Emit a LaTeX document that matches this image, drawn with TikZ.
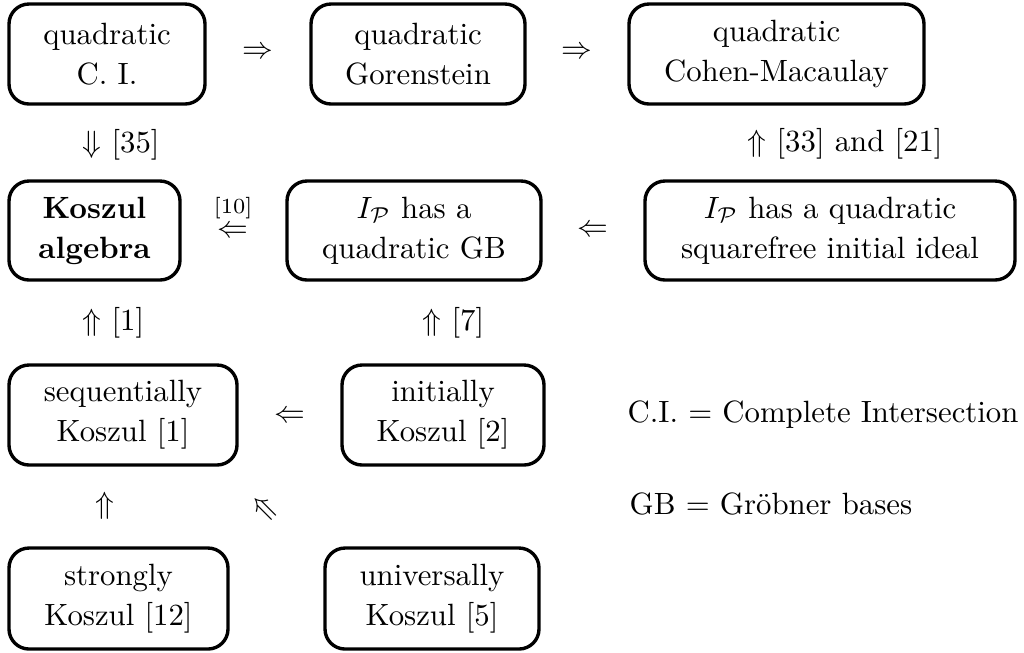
\documentclass[tikz,border=0pt]{standalone}
\usepackage{amsmath}
\newcommand\pxu{0.325pt}
\tikzset{
  box/.style={draw, line width=1.1pt, rounded corners=6.5pt, align=center, inner sep=0pt,
              font=\fontsize{10}{13}\selectfont},
  sym/.style={inner sep=0pt, font=\fontsize{10}{12}\selectfont},
}
\begin{document}
\begin{tikzpicture}[x=0.325pt,y=-0.325pt]
\useasboundingbox (0,0) rectangle (1024,652);
% row 1
\node[box, minimum width=196*\pxu, minimum height=100*\pxu] (qci) at (107,54) {quadratic\\C. I.};
\node[box, minimum width=214*\pxu, minimum height=100*\pxu] (qgor) at (418,54) {quadratic\\Gorenstein};
\node[box, minimum width=295*\pxu, minimum height=100*\pxu] (qcm) at (776.5,54) {quadratic\\Cohen-Macaulay};
% row 2
\node[box, minimum width=171*\pxu, minimum height=99*\pxu] (kos) at (94.5,230.5) {\textbf{Koszul}\\\textbf{algebra}};
\node[box, minimum width=254*\pxu, minimum height=99*\pxu] (gb) at (414,230.5) {$I_{\mathcal{P}}$ has a\\quadratic GB};
\node[box, minimum width=370*\pxu, minimum height=99*\pxu] (sqf) at (830,230.5) {$I_{\mathcal{P}}$ has a quadratic\\squarefree initial ideal};
% row 3
\node[box, minimum width=228*\pxu, minimum height=100*\pxu] (seq) at (123,415) {sequentially\\Koszul [1]};
\node[box, minimum width=202*\pxu, minimum height=100*\pxu] (ini) at (443,415) {initially\\Koszul [2]};
% row 4
\node[box, minimum width=219*\pxu, minimum height=101*\pxu] (str) at (118.5,598.5) {strongly\\Koszul [12]};
\node[box, minimum width=214*\pxu, minimum height=101*\pxu] (uni) at (432,598.5) {universally\\Koszul [5]};
% implication symbols
\node[sym] (i1) at (258,53) {$\Rightarrow$};
\node[sym] (i2) at (577,53) {$\Rightarrow$};
\node[sym, anchor=west] (i3) at (82,145) {$\Downarrow$ [35]};
\node[sym, anchor=west] (i4) at (747,144) {$\Uparrow$ [33] and [21]};
\node[sym, font=\fontsize{7}{8}\selectfont] (i5ref) at (233,208) {[10]};
\node[sym] (i5) at (233,232) {$\Leftarrow$};
\node[sym] (i6) at (593,231) {$\Leftarrow$};
\node[sym, anchor=west] (i7) at (82,323) {$\Uparrow$ [1]};
\node[sym, anchor=west] (i8) at (422,323) {$\Uparrow$ [7]};
\node[sym] (i9) at (290,417) {$\Leftarrow$};
\node[sym] (i10) at (105,506) {$\Uparrow$};
\node[sym, rotate=45] (i11) at (265,508) {$\Uparrow$};
% legend
\node[sym, anchor=west] (l1) at (627,415) {C.I. $=$ Complete Intersection};
\node[sym, anchor=west] (l2) at (629,504) {GB $=$ Gr\"obner bases};
\end{tikzpicture}
\end{document}
